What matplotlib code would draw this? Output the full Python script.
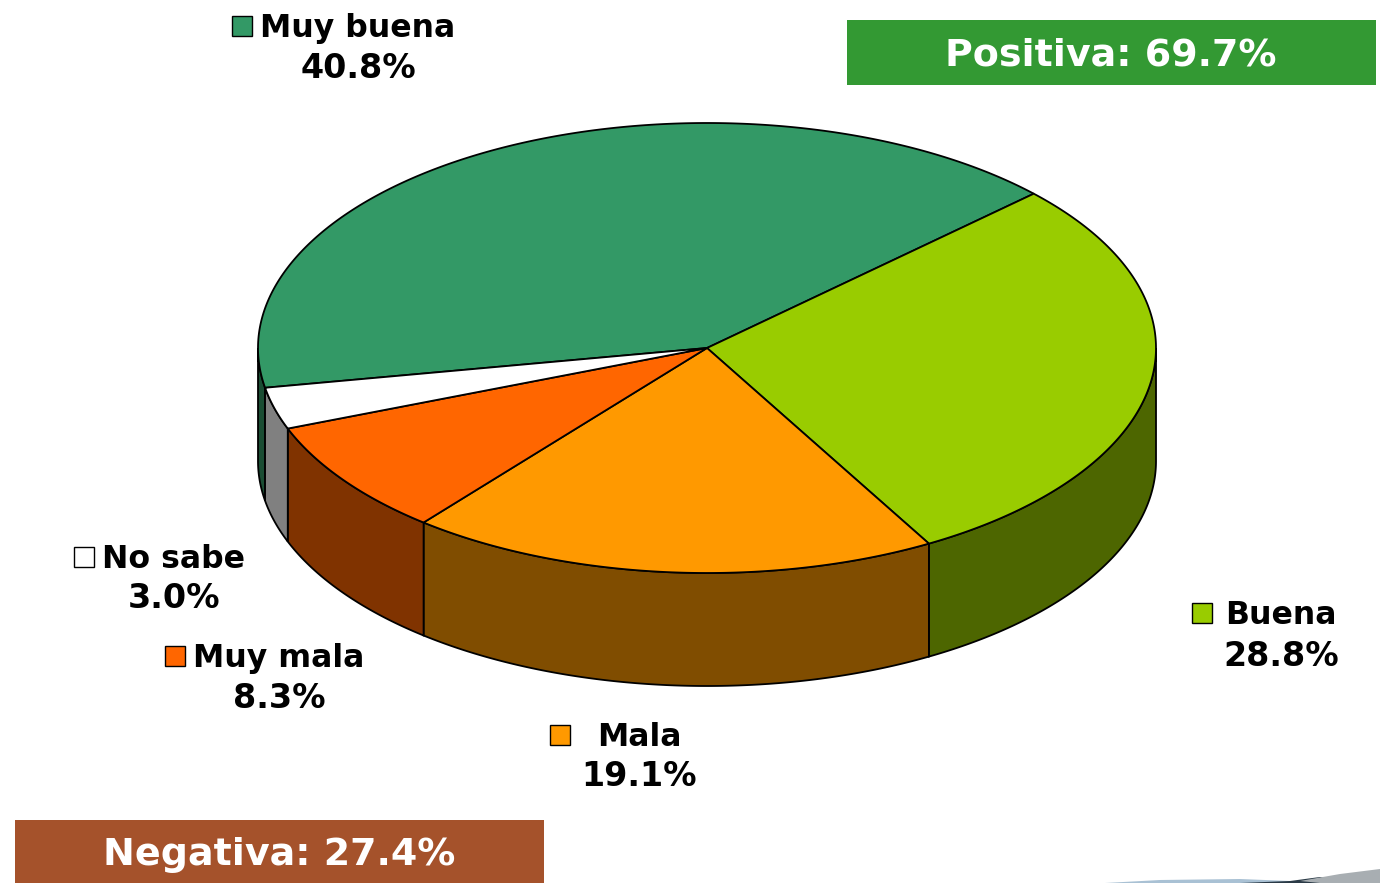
import numpy as np
import matplotlib
matplotlib.use("Agg")
import matplotlib.pyplot as plt
from matplotlib.patches import Polygon, Rectangle

categories = ["Muy buena", "Buena", "Mala", "Muy mala", "No sabe"]
values = [40.8, 28.8, 19.1, 8.3, 3.0]
top_colors = ["#339966", "#99CC00", "#FF9900", "#FF6600", "#FFFFFF"]
side_colors = ["#1A4D33", "#4D6600", "#804D00", "#803300", "#808080"]
summary_labels = ["Positiva: 69.7%", "Negativa: 27.4%"]

# pie geometry, in pixels of the picture
cx, cy = 707, 348
rx, ry = 449, 225
depth = 113

fig = plt.figure(figsize=(13.8, 8.83), dpi=100)
ax = fig.add_axes([0, 0, 1, 1])
ax.set_xlim(0, 1380)
ax.set_ylim(883, 0)
ax.axis("off")


def arc(a1, a2):
    t = np.radians(np.linspace(a1, a2, 200))
    return np.column_stack([cx + rx * np.cos(t), cy - ry * np.sin(t)])


# slices run clockwise, Buena starts at the upper right
angles = []
a = 43.3
for v in values[1:] + values[:1]:
    angles.append((a, a - v * 3.6))
    a -= v * 3.6
angles = angles[-1:] + angles[:-1]

# side walls first
for (a1, a2), col in zip(angles, side_colors):
    lo, hi = a2, a1
    # only the part of the rim that faces the viewer
    for shift in (0, -360):
        s = max(lo + shift, -180)
        e = min(hi + shift, 0)
        if s < e:
            pts = arc(s, e)
            wall = np.vstack([pts, pts[::-1] + [0, depth]])
            ax.add_patch(Polygon(wall, closed=True, facecolor=col, edgecolor="black", linewidth=1.3, zorder=2))

# top of the pie
for (a1, a2), col in zip(angles, top_colors):
    pts = np.vstack([[cx, cy], arc(a1, a2)])
    ax.add_patch(Polygon(pts, closed=True, facecolor=col, edgecolor="black", linewidth=1.3, zorder=3))

# labels with their little squares
label_pos = {
    "Muy buena": (358, 29, 69, 232, 26),
    "Buena": (1281, 615, 656, 1192, 613),
    "Mala": (639, 737, 777, 550, 735),
    "Muy mala": (279, 658, 698, 165, 656),
    "No sabe": (174, 559, 599, 74, 557),
}
for name, v, col in zip(categories, values, top_colors):
    tx, y1, y2, sx, sy = label_pos[name]
    ax.text(tx, y1, name, ha="center", va="center", fontsize=22.7, fontweight="bold", color="black", zorder=5)
    ax.text(tx, y2, f"{v:.1f}%", ha="center", va="center", fontsize=24, fontweight="bold", color="black", zorder=5)
    ax.add_patch(Rectangle((sx, sy - 10), 20, 20, facecolor=col, edgecolor="black", linewidth=1, zorder=5))

# summary boxes
ax.add_patch(Rectangle((847, 20), 529, 65, facecolor="#339933", edgecolor="none"))
ax.text(1111, 55, summary_labels[0], ha="center", va="center", fontsize=27.4, fontweight="bold", color="white")
ax.add_patch(Rectangle((15, 820), 529, 63, facecolor="#A5522B", edgecolor="none"))
ax.text(279, 855, summary_labels[1], ha="center", va="center", fontsize=27.4, fontweight="bold", color="white")

# bit of the wave logo in the corner
ax.add_patch(Polygon([[1105, 883], [1160, 880], [1240, 879], [1290, 881], [1300, 883]],
                     closed=True, facecolor="#A9C1D4", edgecolor="none"))
ax.add_patch(Polygon([[1240, 883], [1290, 881], [1320, 877], [1340, 881], [1330, 883]],
                     closed=True, facecolor="#2A3A46", edgecolor="none"))
ax.add_patch(Polygon([[1300, 881], [1340, 874], [1380, 869], [1380, 883], [1320, 883]],
                     closed=True, facecolor="#A8AEB2", edgecolor="none"))

fig.savefig("out.png", dpi=100)
